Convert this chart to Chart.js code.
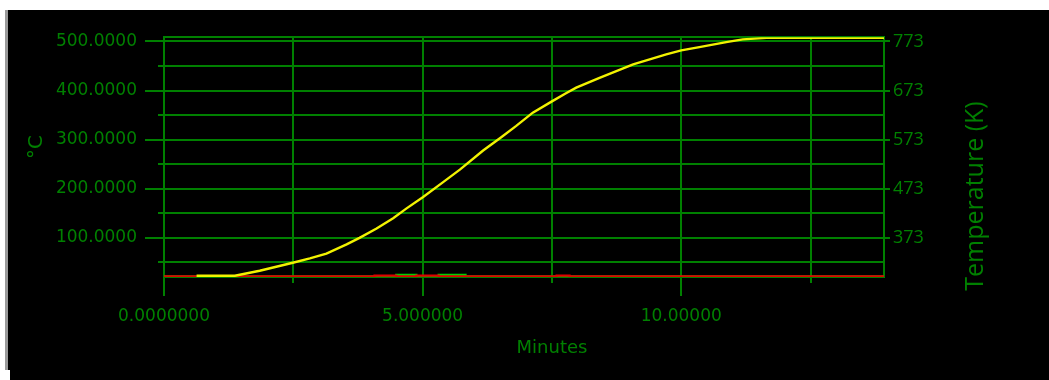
<!DOCTYPE html>
<html>
<head>
<meta charset="utf-8">
<script src="https://cdn.jsdelivr.net/npm/chart.js@4.4.1/dist/chart.umd.min.js"></script>
<style>
  html, body { margin: 0; padding: 0; background: #ffffff; }
  canvas { display: block; }
</style>
</head>
<body>
<canvas id="c" width="1049" height="380"></canvas>
<script>
// Heating run: temperature against elapsed time
const rampMinutes = [0.63, 1.37, 1.85, 2.49, 2.82, 3.14, 3.53, 3.78, 4.11, 4.43, 4.69, 5.01, 5.39, 5.72, 6.17, 6.52, 6.81, 7.13, 7.50, 7.78, 7.97, 8.42, 9.07, 9.39, 9.71, 10.00, 10.35, 10.87, 11.19, 11.65, 13.92];
const rampTempC   = [22.8, 22.8, 33.0, 49.3, 58.2, 68.0, 86.6, 100.0, 119.0, 140.0, 160.0, 183.0, 213.0, 239.0, 278.0, 305.0, 328.0, 355.0, 378.0, 395.0, 406.0, 426.0, 453.5, 463.6, 473.8, 482.0, 488.5, 498.7, 504.2, 507.4, 507.4];

const redMinutes = [0, 4.07, 4.07, 4.49, 4.49, 4.88, 4.88, 5.31, 5.31, 7.59, 7.59, 7.84, 7.84, 13.92];
const redTempC   = [21.6, 21.6, 23.0, 23.0, 21.6, 21.6, 23.0, 23.0, 21.6, 21.6, 23.0, 23.0, 21.6, 21.6];

const greenMinutes = [0, 4.49, 4.49, 4.88, 4.88, 5.31, 5.31, 5.83, 5.83, 13.92];
const greenTempC   = [21.6, 21.6, 24.5, 24.5, 21.6, 21.6, 24.5, 24.5, 21.6, 21.6];

// Axis ranges and tick labels
const minuteRange = [0, 13.92];
const tempRangeC = [20.2, 508.7];
const minuteLabelValues = [0, 5, 10];
const minuteLabels = ['0.0000000', '5.000000', '10.00000'];
const kelvinOffset = 273;

const GRID = '#008000';
const TEXT = '#008000';

const toPoints = (xs, ys) => xs.map((x, i) => ({ x: x, y: ys[i] }));

const framePlugin = {
  id: 'frame',
  beforeDraw(chart) {
    const { ctx, width, height } = chart;
    ctx.save();
    ctx.fillStyle = '#ffffff';
    ctx.fillRect(0, 0, width, height);
    ctx.fillStyle = '#000000';
    ctx.fillRect(8, 10, width - 8, height - 10);
    ctx.fillStyle = '#9a9a9a';
    ctx.fillRect(5, 10, 3, 360);
    ctx.fillStyle = '#ffffff';
    ctx.fillRect(0, 370, 10, 10);
    ctx.restore();
  },
  beforeDatasetsDraw(chart) {
    const { ctx, chartArea: a, scales } = chart;
    ctx.save();
    ctx.strokeStyle = GRID;
    ctx.lineWidth = 2;
    ctx.strokeRect(Math.round(a.left), Math.round(a.top), Math.round(a.right) - Math.round(a.left), Math.round(a.bottom) - Math.round(a.top));
    ctx.beginPath();
    scales.y.ticks.forEach(t => {
      const py = Math.round(scales.y.getPixelForValue(t.value));
      const major = Math.abs(t.value % 100) < 1e-6;
      const len = major ? 19 : 6;
      ctx.moveTo(a.left - len, py);
      ctx.lineTo(a.left, py);
      if (major) {
        ctx.moveTo(a.right, py);
        ctx.lineTo(a.right + 6, py);
      }
    });
    scales.x.ticks.forEach(t => {
      const px = Math.round(scales.x.getPixelForValue(t.value));
      const major = Math.abs(t.value % 5) < 1e-6;
      const len = major ? 19 : 6;
      ctx.moveTo(px, a.bottom);
      ctx.lineTo(px, a.bottom + len);
    });
    ctx.stroke();
    ctx.restore();
  },
  afterDraw(chart) {
    const { ctx } = chart;
    ctx.save();
    ctx.fillStyle = TEXT;
    ctx.textAlign = 'center';
    ctx.textBaseline = 'alphabetic';

    ctx.save();
    ctx.translate(42, 147);
    ctx.rotate(-Math.PI / 2);
    ctx.font = '20px "DejaVu Sans"';
    ctx.fillText('°C', 0, 0);
    ctx.restore();

    ctx.save();
    ctx.translate(983, 196);
    ctx.rotate(-Math.PI / 2);
    ctx.font = '25px "Open Sans"';
    ctx.fillText('Temperature (K)', 0, 0);
    ctx.restore();

    ctx.font = '18px "DejaVu Sans"';
    ctx.fillText('Minutes', 552, 353);
    ctx.restore();
  }
};

new Chart(document.getElementById('c'), {
  type: 'line',
  data: {
    datasets: [
      { data: toPoints(rampMinutes, rampTempC), borderColor: '#f2f200', borderWidth: 2.4, yAxisID: 'y' },
      { data: toPoints(redMinutes, redTempC), borderColor: '#e00000', borderWidth: 2.2, yAxisID: 'y' },
      { data: toPoints(greenMinutes, greenTempC), borderColor: '#00d000', borderWidth: 2.2, yAxisID: 'y' }
    ]
  },
  options: {
    responsive: false,
    devicePixelRatio: 1,
    animation: false,
    events: [],
    layout: { padding: { top: 36, left: 0, right: 0, bottom: 0 } },
    elements: { point: { radius: 0 }, line: { tension: 0, fill: false } },
    plugins: { legend: { display: false }, tooltip: { enabled: false } },
    scales: {
      x: {
        type: 'linear',
        min: minuteRange[0],
        max: minuteRange[1],
        afterFit(s) { s.height = 103; },
        border: { display: false },
        grid: { color: GRID, lineWidth: 2, drawTicks: false },
        ticks: {
          stepSize: 2.5,
          includeBounds: false,
          autoSkip: false,
          maxRotation: 0,
          padding: 29,
          color: TEXT,
          font: { family: '"DejaVu Sans"', size: 17 },
          callback(v) {
            const i = minuteLabelValues.findIndex(m => Math.abs(m - v) < 1e-6);
            return i >= 0 ? minuteLabels[i] : '';
          }
        }
      },
      y: {
        type: 'linear',
        position: 'left',
        min: tempRangeC[0],
        max: tempRangeC[1],
        afterFit(s) { s.width = 164; },
        border: { display: false },
        grid: { color: GRID, lineWidth: 2, drawTicks: false },
        ticks: {
          stepSize: 50,
          includeBounds: false,
          autoSkip: false,
          padding: 27,
          color: TEXT,
          font: { family: '"DejaVu Sans"', size: 17 },
          callback(v) { return Math.abs(v % 100) < 1e-6 ? v.toFixed(4) : ''; }
        }
      },
      y2: {
        type: 'linear',
        position: 'right',
        min: tempRangeC[0],
        max: tempRangeC[1],
        afterFit(s) { s.width = 165; },
        border: { display: false },
        grid: { display: false, drawTicks: false },
        ticks: {
          stepSize: 50,
          includeBounds: false,
          autoSkip: false,
          padding: 9,
          color: TEXT,
          font: { family: '"Open Sans"', size: 18 },
          callback(v) { return Math.abs(v % 100) < 1e-6 ? String(Math.round(v + kelvinOffset)) : ''; }
        }
      }
    }
  },
  plugins: [framePlugin]
});
</script>
</body>
</html>
